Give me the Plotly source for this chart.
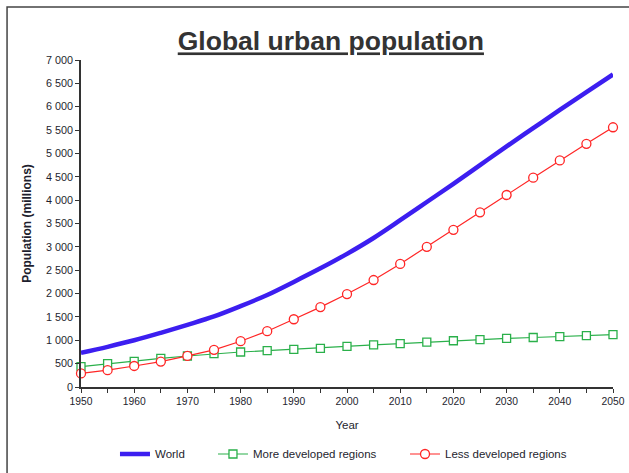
import plotly.graph_objects as go

years = list(range(1950, 2051, 5))
world = [730, 860, 1000, 1160, 1330, 1510, 1730, 1970, 2250, 2540, 2850,
         3190, 3570, 3960, 4350, 4750, 5150, 5540, 5930, 6310, 6690]
more_dev = [435, 499, 550, 614, 664, 713, 749, 778, 806, 828, 871,
            900, 930, 960, 990, 1015, 1040, 1060, 1080, 1100, 1120]
less_dev = [290, 360, 450, 545, 665, 795, 980, 1195, 1450, 1710, 1990,
            2290, 2635, 3000, 3365, 3740, 4110, 4480, 4850, 5205, 5560]

x_ticks = list(range(1950, 2051, 10))
y_ticks = list(range(0, 7001, 500))

FONT = "Liberation Sans, Arial, sans-serif"
TXT = "#1e1e2e"

fig = go.Figure()
fig.add_trace(go.Scatter(x=years, y=world, name="World", mode="lines",
                         line=dict(color="#3c1ef0", width=4.5, shape="spline"),
                         cliponaxis=False, legend="legend", showlegend=True))
fig.add_trace(go.Scatter(x=years, y=more_dev, name="More developed regions", mode="lines+markers",
                         line=dict(color="#2ab04a", width=1.2),
                         marker=dict(symbol="square", size=8, color="white",
                                     line=dict(color="#2ab04a", width=1.3)),
                         cliponaxis=False, legend="legend2", showlegend=True))
fig.add_trace(go.Scatter(x=years, y=less_dev, name="Less developed regions", mode="lines+markers",
                         line=dict(color="#ff2626", width=1.2),
                         marker=dict(symbol="circle", size=9, color="white",
                                     line=dict(color="#ff2626", width=1.3)),
                         cliponaxis=False, legend="legend3", showlegend=True))

leg_common = dict(orientation="h", y=0.0402, yref="container", yanchor="middle",
                  xref="container", xanchor="left",
                  font=dict(family=FONT, size=11.5, color=TXT), itemwidth=30,
                  bgcolor="rgba(0,0,0,0)", visible=True)

fig.update_layout(
    width=629, height=473,
    margin=dict(l=81, r=16, t=60, b=86, autoexpand=False),
    paper_bgcolor="white", plot_bgcolor="white",
    separators=". ",
    showlegend=True,
    title=dict(text="Global urban population", x=0.526, xanchor="center",
               y=0.913, yanchor="middle",
               font=dict(family=FONT, size=26.5,
                         color="#333333", weight="bold", lineposition="under")),
    xaxis=dict(range=[1950, 2050], tickvals=x_ticks, showgrid=False, zeroline=False,
               showline=True, linecolor="#333333", linewidth=1.5, automargin=False,
               ticks="outside", ticklen=4, tickcolor="#333333",
               tickfont=dict(family=FONT, size=10.3, color=TXT),
               minor=dict(dtick=5, tick0=1950, ticks="outside", ticklen=4, tickcolor="#333333", showgrid=False),
               title=dict(text="Year", font=dict(family=FONT, size=11.5, color=TXT),
                          standoff=15)),
    yaxis=dict(range=[0, 7000], tickvals=y_ticks, tickformat=",d", showgrid=False, zeroline=False,
               showline=True, linecolor="#333333", linewidth=1.5, automargin=False,
               ticks="outside", ticklen=4, tickcolor="#333333",
               tickfont=dict(family=FONT, size=10.8, color=TXT),
               title=dict(text="<b>Population (millions)</b>",
                          font=dict(family=FONT, size=12, color=TXT),
                          standoff=12)),
    legend=dict(x=0.1828, **leg_common),
    legend2=dict(x=0.3386, **leg_common),
    legend3=dict(x=0.6439, **leg_common),
    shapes=[dict(type="rect", xref="paper", yref="paper",
                 x0=-0.139, x1=1.05, y0=-0.3, y1=1.162,
                 line=dict(color="#444444", width=1.5), fillcolor="rgba(0,0,0,0)", layer="below")],
)

fig.write_html("out.html", config={"displayModeBar": False},
               post_script="document.body.style.margin='0';")
